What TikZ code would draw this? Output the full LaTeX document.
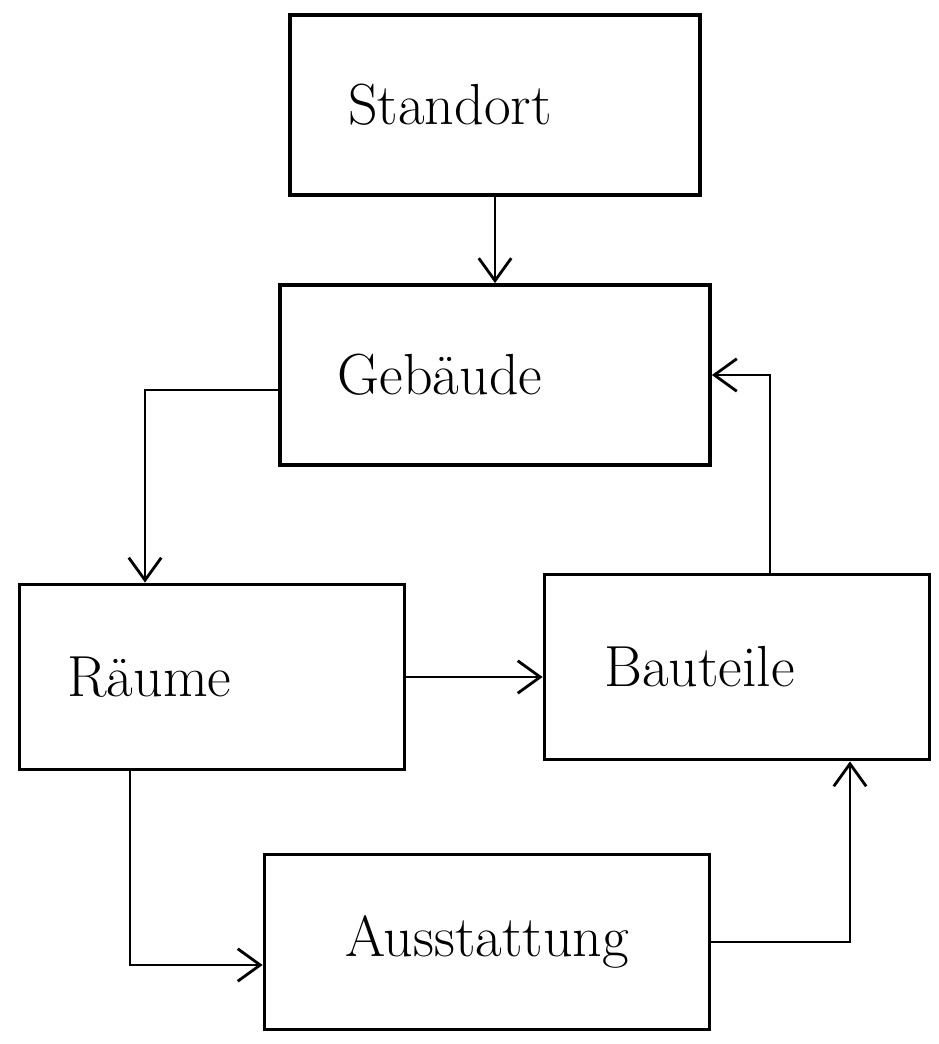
\documentclass[tikz,border=0pt]{standalone}
\usetikzlibrary{arrows.meta}
\begin{document}
\begin{tikzpicture}[x=0.02cm,y=-0.02cm,
  box/.style={draw=black,line width=2.2pt,rectangle,inner sep=0pt,
    font=\fontsize{33}{40}\selectfont},
  arr/.style={draw=black,line width=1.6pt,-{Straight Barb[length=0.45cm,width=0.65cm,line width=1.6pt]}}]
\useasboundingbox (0,0) rectangle (938,1044);
\node[box,minimum width=8.2cm,minimum height=3.6cm] (S) at (495,105) {\hspace*{-1.8cm}Standort};
\node[box,minimum width=8.6cm,minimum height=3.6cm] (G) at (495,375) {\hspace*{-2.2cm}Gebäude};
\node[box,minimum width=7.7cm,minimum height=3.7cm] (R) at (212,677) {\hspace*{-2.5cm}Räume};
\node[box,minimum width=7.7cm,minimum height=3.7cm] (B) at (737,667) {\hspace*{-1.5cm}Bauteile};
\node[box,minimum width=8.9cm,minimum height=3.5cm] (A) at (487,942) {Ausstattung};
\draw[arr] (S.south) -- (G.north);
\draw[arr] ([yshift=-0.3cm]G.west) -| ([xshift=-1.34cm]R.north);
\draw[arr] (R.east) -- (R.east -| B.west);
\draw[arr] ([xshift=-1.64cm]R.south) |- ([yshift=-0.46cm]A.west);
\draw[arr] (A.east) -| ([xshift=2.26cm]B.south);
\draw[arr] ([xshift=0.66cm]B.north) |- (G.east);
\end{tikzpicture}
\end{document}
